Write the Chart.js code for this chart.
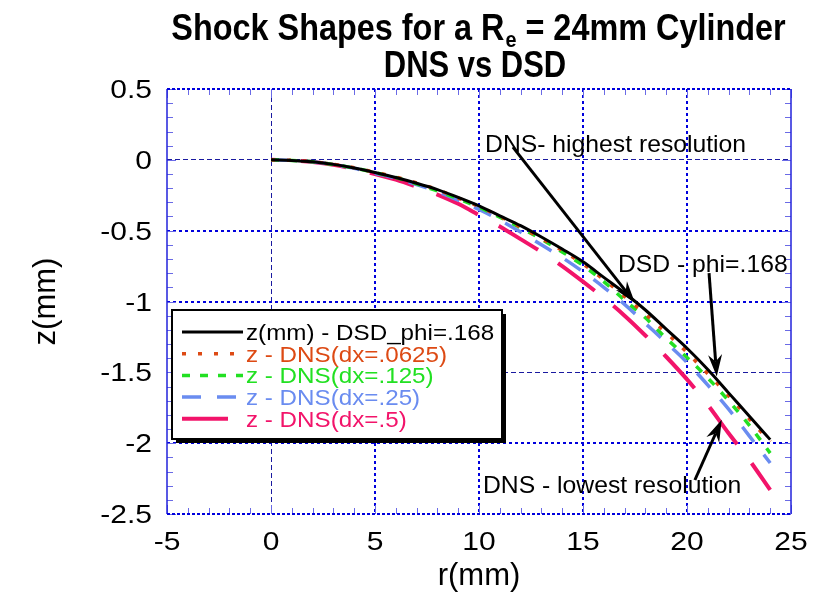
<!DOCTYPE html>
<html>
<head>
<meta charset="utf-8">
<script src="https://cdn.jsdelivr.net/npm/chart.js@4.4.1/dist/chart.umd.min.js"></script>
<style>
  html, body { margin: 0; padding: 0; background: #ffffff; }
  #wrap { width: 814px; height: 592px; position: relative; }
</style>
</head>
<body>
<div id="wrap"><canvas id="shock" width="814" height="592"></canvas></div>
<script>
// Radial stations (mm) and shock position z (mm) for each solution
const radius  = [0, 1, 2, 3, 4, 5, 6, 7, 8, 9, 10, 11, 12, 13, 14, 15, 16, 17, 18, 19, 20, 21, 22, 23, 24];
const zDSD    = [0, -0.004, -0.014, -0.032, -0.058, -0.09, -0.125, -0.165, -0.21, -0.265, -0.325, -0.395, -0.465, -0.545, -0.63, -0.72, -0.83, -0.94, -1.06, -1.195, -1.33, -1.48, -1.645, -1.81, -1.975];
const zDx0625 = [0, -0.004, -0.013, -0.032, -0.056, -0.088, -0.122, -0.163, -0.21, -0.27, -0.33, -0.40, -0.475, -0.555, -0.64, -0.735, -0.845, -0.965, -1.09, -1.22, -1.36, -1.51, -1.665, -1.83, -1.99];
const zDx125  = [0, -0.004, -0.014, -0.033, -0.058, -0.09, -0.125, -0.17, -0.22, -0.275, -0.335, -0.405, -0.48, -0.56, -0.65, -0.745, -0.86, -0.99, -1.115, -1.26, -1.395, -1.54, -1.70, -1.875, -2.07];
const zDx25   = [0, -0.004, -0.014, -0.034, -0.06, -0.095, -0.13, -0.175, -0.225, -0.285, -0.35, -0.425, -0.51, -0.60, -0.69, -0.79, -0.90, -1.02, -1.155, -1.29, -1.43, -1.59, -1.76, -1.95, -2.14];
const zDx5    = [0, -0.004, -0.015, -0.035, -0.065, -0.10, -0.14, -0.19, -0.245, -0.31, -0.39, -0.47, -0.56, -0.65, -0.75, -0.86, -0.975, -1.10, -1.24, -1.39, -1.55, -1.73, -1.93, -2.12, -2.33];

const seriesNames = [
  'z(mm) - DSD_phi=.168',
  'z - DNS(dx=.0625)',
  'z - DNS(dx=.125)',
  'z - DNS(dx=.25)',
  'z - DNS(dx=.5)'
];

// Axis tick values and labels
const xTicks = [-5, 0, 5, 10, 15, 20, 25];
const xTickLabels = ['-5', '0', '5', '10', '15', '20', '25'];
const yTicks = [0.5, 0, -0.5, -1, -1.5, -2, -2.5];
const yTickLabels = ['0.5', '0', '-0.5', '-1', '-1.5', '-2', '-2.5'];

const titleMain = 'Shock Shapes for a R';
const titleSub = 'e';
const titleRest = ' = 24mm Cylinder';
const titleLine2 = 'DNS vs DSD';
const xTitle = 'r(mm)';
const yTitle = 'z(mm)';

// Callout texts (anchored in data units) and arrows
const notes = [
  { text: 'DNS- highest resolution', r: 10.29, z: 0.055 },
  { text: 'DSD - phi=.168', r: 16.68, z: -0.79 },
  { text: 'DNS - lowest resolution', r: 10.19, z: -2.353 }
];
const arrows = [
  { from: [11.63, 0.09], to: [17.5, -1.01] },
  { from: [21.06, -0.80], to: [21.43, -1.53] },
  { from: [20.38, -2.26], to: [21.67, -1.835] }
];

const FONT = '"Liberation Sans", Arial, Helvetica, sans-serif';

function pts(zs) { return radius.map((r, i) => ({ x: r, y: zs[i] })); }

function drawText(ctx, text, x, y, size, weight, sx, align, color) {
  ctx.save();
  ctx.font = weight + ' ' + size + 'px ' + FONT;
  ctx.fillStyle = color;
  ctx.textBaseline = 'alphabetic';
  ctx.textAlign = 'left';
  const w = ctx.measureText(text).width * sx;
  let left = x;
  if (align === 'center') left = x - w / 2;
  else if (align === 'right') left = x - w;
  ctx.translate(left, y);
  ctx.scale(sx, 1);
  ctx.fillText(text, 0, 0);
  ctx.restore();
  return w;
}

function measure(ctx, text, size, weight, sx) {
  ctx.save();
  ctx.font = weight + ' ' + size + 'px ' + FONT;
  const w = ctx.measureText(text).width * sx;
  ctx.restore();
  return w;
}

function drawArrow(ctx, x0, y0, x1, y1) {
  const a = Math.atan2(y1 - y0, x1 - x0);
  const c = Math.cos(a), s = Math.sin(a);
  const L = 22, W = 7, N = 15;
  ctx.save();
  ctx.strokeStyle = '#000';
  ctx.fillStyle = '#000';
  ctx.lineWidth = 3;
  ctx.beginPath();
  ctx.moveTo(x0, y0);
  ctx.lineTo(x1 - N * c, y1 - N * s);
  ctx.stroke();
  const bx = x1 - L * c, by = y1 - L * s;
  ctx.beginPath();
  ctx.moveTo(x1, y1);
  ctx.lineTo(bx + W * s, by - W * c);
  ctx.lineTo(x1 - N * c, y1 - N * s);
  ctx.lineTo(bx - W * s, by + W * c);
  ctx.closePath();
  ctx.fill();
  ctx.restore();
}

// Frame, inward tick marks, tick labels, titles
const framePlugin = {
  id: 'framePlugin',
  beforeDatasetsDraw(chart) {
    const { ctx, chartArea: a, scales: { x, y } } = chart;
    ctx.save();
    // minor / major ticks on all four sides
    ctx.strokeStyle = '#6a6ae6';
    ctx.lineWidth = 1;
    for (let i = 0; i <= 30; i++) {
      const v = -5 + i;
      const px = Math.round(x.getPixelForValue(v)) + 0.5;
      const len = (v % 5 === 0) ? 9 : 6;
      ctx.beginPath();
      ctx.moveTo(px, a.bottom); ctx.lineTo(px, a.bottom - len);
      ctx.moveTo(px, a.top); ctx.lineTo(px, a.top + len);
      ctx.stroke();
    }
    for (let i = 0; i <= 30; i++) {
      const v = -2.5 + i * 0.1;
      const py = Math.round(y.getPixelForValue(v)) + 0.5;
      const len = (i % 5 === 0) ? 9 : 6;
      ctx.beginPath();
      ctx.moveTo(a.left, py); ctx.lineTo(a.left + len, py);
      ctx.moveTo(a.right, py); ctx.lineTo(a.right - len, py);
      ctx.stroke();
    }
    // frame
    ctx.strokeStyle = '#2323dc';
    ctx.lineWidth = 1.5;
    ctx.beginPath();
    ctx.moveTo(a.left, a.top); ctx.lineTo(a.left, a.bottom);
    ctx.moveTo(a.right, a.top); ctx.lineTo(a.right, a.bottom);
    ctx.stroke();
    ctx.strokeStyle = '#0000dd';
    ctx.lineWidth = 2;
    ctx.setLineDash([3, 2]);
    ctx.beginPath();
    ctx.moveTo(a.left, a.top); ctx.lineTo(a.right, a.top);
    ctx.moveTo(a.left, a.bottom); ctx.lineTo(a.right, a.bottom);
    ctx.stroke();
    ctx.restore();

    // tick labels
    xTicks.forEach((v, i) => {
      drawText(ctx, xTickLabels[i], x.getPixelForValue(v), 550, 25, 'normal', 1.2, 'center', '#000');
    });
    yTicks.forEach((v, i) => {
      drawText(ctx, yTickLabels[i], 152, y.getPixelForValue(v) + 9, 25, 'normal', 1.2, 'right', '#000');
    });

    // axis titles
    drawText(ctx, xTitle, (a.left + a.right) / 2, 585, 31, 'normal', 1.0, 'center', '#000');
    ctx.save();
    ctx.translate(55, (a.top + a.bottom) / 2);
    ctx.rotate(-Math.PI / 2);
    drawText(ctx, yTitle, 0, 0, 31, 'normal', 1.0, 'center', '#000');
    ctx.restore();

    // chart title (two lines, subscript e)
    const tSize = 36, tsx = 0.9, subSize = 22;
    const w1 = measure(ctx, titleMain, tSize, 'bold', tsx);
    const w2 = measure(ctx, titleSub, subSize, 'bold', tsx);
    const w3 = measure(ctx, titleRest, tSize, 'bold', tsx);
    let tx = 478 - (w1 + w2 + w3) / 2;
    tx += drawText(ctx, titleMain, tx, 40, tSize, 'bold', tsx, 'left', '#000');
    tx += drawText(ctx, titleSub, tx + 1, 47, subSize, 'bold', tsx, 'left', '#000');
    drawText(ctx, titleRest, tx + 1, 40, tSize, 'bold', tsx, 'left', '#000');
    drawText(ctx, titleLine2, 475, 77, tSize, 'bold', 0.86, 'center', '#000');
  },
  afterDatasetsDraw(chart) {
    const { ctx, scales: { x, y } } = chart;
    // legend box with drop shadow
    const bx = 172, by = 310, bw = 330, bh = 129;
    ctx.save();
    ctx.fillStyle = '#000';
    ctx.fillRect(bx + 4, by + 4, bw, bh);
    ctx.fillStyle = '#fff';
    ctx.fillRect(bx, by, bw, bh);
    ctx.strokeStyle = '#000';
    ctx.lineWidth = 2;
    ctx.strokeRect(bx, by, bw, bh);
    chart.data.datasets.forEach((ds, i) => {
      const cy = 332 + i * 21.7;
      ctx.save();
      ctx.strokeStyle = ds.borderColor;
      ctx.lineWidth = ds.borderWidth;
      ctx.setLineDash(ds.borderDash || []);
      ctx.beginPath();
      ctx.moveTo(182, cy); ctx.lineTo(243, cy);
      ctx.stroke();
      ctx.restore();
      drawText(ctx, ds.label, 246, cy + 8, 22, 'normal', 1.1, 'left', ds.borderColor);
    });
    ctx.restore();

    // callouts
    notes.forEach(n => {
      drawText(ctx, n.text, x.getPixelForValue(n.r), y.getPixelForValue(n.z), 24, 'normal', 1.03, 'left', '#000');
    });
    arrows.forEach(ar => {
      drawArrow(ctx,
        x.getPixelForValue(ar.from[0]), y.getPixelForValue(ar.from[1]),
        x.getPixelForValue(ar.to[0]), y.getPixelForValue(ar.to[1]));
    });
  }
};

const isEdge = (v, lo, hi) => Math.abs(v - lo) < 1e-9 || Math.abs(v - hi) < 1e-9;

new Chart(document.getElementById('shock'), {
  type: 'line',
  data: {
    datasets: [
      { label: seriesNames[0], data: pts(zDSD), borderColor: '#000000', borderWidth: 3, borderDash: [] },
      { label: seriesNames[1], data: pts(zDx0625), borderColor: '#dd4a14', borderWidth: 3.5, borderDash: [4, 12] },
      { label: seriesNames[2], data: pts(zDx125), borderColor: '#22e022', borderWidth: 3.5, borderDash: [8, 10] },
      { label: seriesNames[3], data: pts(zDx25), borderColor: '#6a8cf0', borderWidth: 3.5, borderDash: [19, 16] },
      { label: seriesNames[4], data: pts(zDx5), borderColor: '#f2146a', borderWidth: 4, borderDash: [46, 24], borderDashOffset: 40 }
    ]
  },
  options: {
    responsive: false,
    animation: false,
    devicePixelRatio: 1,
    layout: { padding: { top: 89, right: 23, left: 0, bottom: 0 } },
    elements: {
      point: { radius: 0, hoverRadius: 0 },
      line: { tension: 0, cubicInterpolationMode: 'monotone', fill: false }
    },
    plugins: { legend: { display: false }, title: { display: false }, tooltip: { enabled: false } },
    scales: {
      x: {
        type: 'linear', min: -5, max: 25,
        afterFit: s => { s.height = 78; },
        ticks: { display: false, stepSize: 5 },
        grid: {
          drawTicks: false,
          color: c => (c.tick && isEdge(c.tick.value, -5, 25)) ? 'rgba(0,0,0,0)' : (c.tick && c.tick.value === 0 ? '#1a1aa0' : '#0000dd'),
          lineWidth: c => (c.tick && c.tick.value === 0) ? 1 : 2
        },
        border: { display: false, dash: c => (c.tick && c.tick.value === 0) ? [5, 3] : [3, 3] }
      },
      y: {
        type: 'linear', min: -2.5, max: 0.5,
        afterFit: s => { s.width = 167; },
        ticks: { display: false, stepSize: 0.5 },
        grid: {
          drawTicks: false,
          color: c => (c.tick && isEdge(c.tick.value, -2.5, 0.5)) ? 'rgba(0,0,0,0)' :
            (c.tick && (c.tick.value === 0 || c.tick.value === -1.5) ? '#1a1aa0' : '#0000dd'),
          lineWidth: c => (c.tick && (c.tick.value === 0 || c.tick.value === -1.5)) ? 1 : 2
        },
        border: { display: false, dash: c => (c.tick && (c.tick.value === 0 || c.tick.value === -1.5)) ? [5, 3] : [3, 3] }
      }
    }
  },
  plugins: [framePlugin]
});
</script>
</body>
</html>
